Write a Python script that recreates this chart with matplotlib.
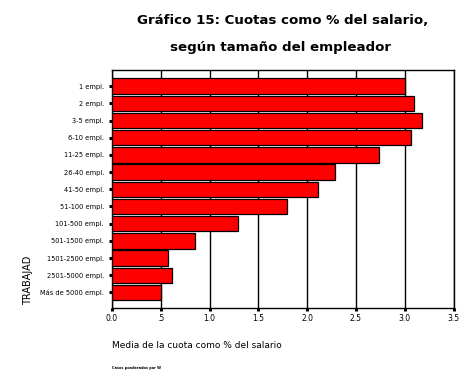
import matplotlib.pyplot as plt

# datos
categorias = ["1 empl.", "2 empl.", "3-5 empl.", "6-10 empl.", "11-25 empl.",
              "26-40 empl.", "41-50 empl.", "51-100 empl.", "101-500 empl.",
              "501-1500 empl.", "1501-2500 empl.", "2501-5000 empl.",
              "Más de 5000 empl."]
cuotas = [3.00, 3.09, 3.18, 3.06, 2.74, 2.29, 2.11, 1.79, 1.29, 0.85, 0.57, 0.61, 0.50]
xticks = [0.0, 0.5, 1.0, 1.5, 2.0, 2.5, 3.0, 3.5]
xticklabels = ["0.0", ".5", "1.0", "1.5", "2.0", "2.5", "3.0", "3.5"]

fig = plt.figure(figsize=(4.74, 3.8), dpi=100)
ax = fig.add_axes([0.2363, 0.1887, 0.7205, 0.6263])
ax.set_axisbelow(True)

pos = list(range(len(categorias)))
ax.barh(pos, cuotas, height=0.9, color="#ff0000", edgecolor="black",
        linewidth=0.9, zorder=3)

ax.set_xlim(0, 3.5)
ax.set_ylim(len(categorias) - 0.5 + 0.42, -0.5 - 0.42)
ax.set_yticks(pos)
ax.set_yticklabels(categorias, fontsize=4.8)
ax.set_xticks(xticks)
ax.set_xticklabels(xticklabels, fontsize=5.5)
ax.tick_params(axis="y", length=2.2, width=2.2, pad=3.5)
ax.tick_params(axis="x", length=2.2, width=2.2, pad=2)

# rejilla vertical (detrás de las barras)
ax.grid(axis="x", color="black", linewidth=1.0, zorder=0)
for s in ax.spines.values():
    s.set_linewidth(1.0)

fig.text(0.597, 0.947, "Gráfico 15: Cuotas como % del salario,", ha="center",
         va="center", fontsize=9.6, fontweight="heavy")
fig.text(0.591, 0.876, "según tamaño del empleador", ha="center",
         va="center", fontsize=9.6, fontweight="heavy")

fig.text(0.06, 0.197, "TRABAJAD", rotation=90, ha="center", va="bottom",
         fontsize=7)
fig.text(0.236, 0.092, "Media de la cuota como % del salario", ha="left",
         va="center", fontsize=6.5)
fig.text(0.236, 0.031, "Casos ponderados por W", ha="left", va="center",
         fontsize=2.5, fontweight="bold")

fig.savefig("out.png", dpi=100)
